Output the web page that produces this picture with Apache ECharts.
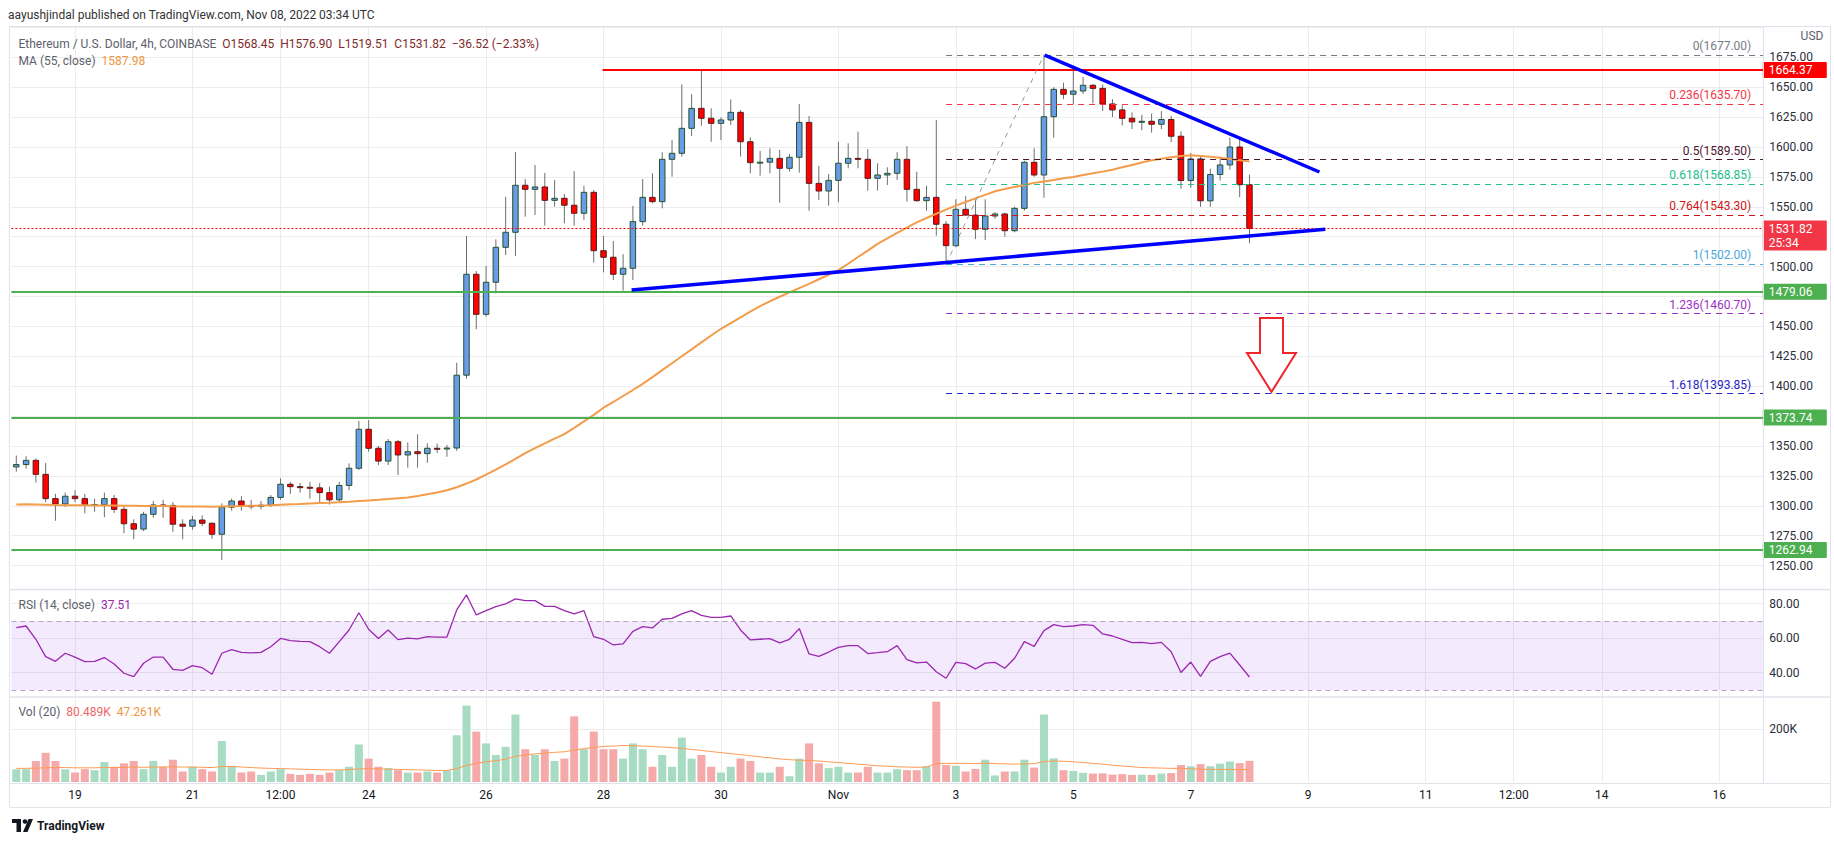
<!DOCTYPE html>
<html>
<head>
<meta charset="utf-8">
<title>ETHUSD 4h</title>
<script src="https://cdn.jsdelivr.net/npm/echarts@6.0.0/dist/echarts.min.js"></script>
<style>
html,body{margin:0;padding:0;background:#ffffff;}
#chart{width:1834px;height:845px;}
</style>
</head>
<body>
<div id="chart"></div>
<script>
// ================= DATA =================
const openP = [1332.5,1334.5,1338,1326.3,1306,1301.5,1308,1306,1300.7,1301,
1306,1297,1285,1280.5,1292.9,1300.7,1300.3,1284.6,1282.9,1288.1,
1285.4,1276.2,1298.8,1304,1300.1,1299.6,1300.5,1307,1318,1316,
1315.5,1315,1311,1305,1317,1331.4,1364,1348.1,1337.4,1353.6,
1342.5,1345.2,1343.6,1348.1,1347.5,1348.3,1409.2,1493.6,1460.1,1486.9,
1516.1,1528.7,1568,1564.6,1566.6,1555.4,1557.1,1551.3,1544.6,1562.1,
1513.3,1507.8,1493.6,1498.6,1537.6,1557.9,1554.3,1589.7,1594.7,1615.6,
1632.3,1624,1619.8,1622.6,1629,1604.4,1586.9,1587.3,1590.5,1582.2,
1591.4,1620.6,1569.6,1563.2,1572.1,1586.4,1590.5,1589.7,1573.8,1576.6,
1578,1589.7,1564.6,1555.1,1557.9,1535.4,1517.5,1547.9,1543.1,1531.2,
1542.3,1544,1530,1548.7,1587.2,1576.6,1625.3,1648.2,1644.1,1646.8,
1651.6,1649,1636,1631,1624,1621,1621.5,1619,1623,1609,
1572,1590,1555,1577,1585,1600,1568.45];
const highP = [1342,1341.5,1339.5,1335.8,1310,1311,1313,1310,1306,1311,
1309,1299.8,1288.7,1295,1304,1305,1303,1288.7,1291.5,1292,
1286,1302,1306,1308,1305,1304,1309,1323,1320,1319,
1320,1319,1316,1320,1335.5,1370.9,1371.7,1350,1355.8,1355,
1353,1359.8,1352.2,1352,1350.8,1419.6,1525.6,1496.3,1500.5,1522.8,
1558.4,1595.8,1573.2,1584.9,1578.3,1572.4,1560.7,1579.9,1567.6,1564,
1525.6,1521.4,1510.3,1550.7,1573.2,1578,1595.6,1605.9,1652.4,1644.2,
1664,1632.3,1624.8,1639.8,1630.9,1608.1,1596.7,1598.9,1597.5,1594.1,
1635.9,1625.9,1584.2,1577.4,1604.4,1603.1,1612.8,1598.1,1586.4,1583,
1595.6,1600.7,1579.3,1567.6,1622.6,1538.1,1556.3,1559,1556.3,1556.3,
1545.5,1545.1,1550,1588.5,1598.9,1677,1650,1653.8,1664.4,1658.6,
1652.6,1652,1640,1635,1629,1627,1628,1630,1626,1613,
1595,1593,1582,1592,1608,1607,1576.9];
const lowP = [1328.5,1331,1319.5,1303,1287.5,1299,1303,1293.7,1295,1290.4,
1294,1277,1272,1279,1290,1290,1278.3,1272,1280,1283,
1272.5,1254.7,1296,1296,1297,1297,1299,1305,1310,1311,
1306,1303,1301,1303,1313,1329.9,1345.2,1334,1334,1325.8,
1331.9,1331.9,1336,1344,1341,1346,1406.3,1447.6,1458.1,1477.7,
1509.7,1508.9,1541.7,1543.1,1534.2,1550.1,1536.2,1534.2,1539,1503.3,
1495.2,1488.8,1480,1488.8,1534.2,1553,1548.7,1575.2,1592,1609.2,
1617.8,1604.4,1605.9,1618.4,1592,1578,1576,1578,1553.4,1579.4,
1578.5,1546.7,1555.7,1550.9,1553.8,1582.2,1582.2,1563.5,1563.5,1568.2,
1572.4,1554.3,1554.3,1546.7,1525.8,1502,1516.1,1542.3,1523,1522.2,
1540,1525,1528.7,1546.7,1575.2,1557.6,1607.8,1640.1,1635.7,1644.3,
1636.5,1630,1625,1618,1615,1614,1612,1615,1604,1565,
1566,1550,1550,1572,1581,1558,1519.51];
const closeP = [1334.5,1338,1326.3,1306,1301.5,1308,1306,1300.7,1301,1306,
1297,1285,1280.5,1292.9,1300.7,1300.3,1284.6,1282.9,1288.1,1285.4,
1276.2,1298.8,1304,1300.1,1299.6,1300.5,1307,1318,1316,1315.5,
1315,1311,1305,1317,1331.4,1364,1348.1,1337.4,1353.6,1342.5,
1345.2,1343.6,1348.1,1347.5,1348.3,1409.2,1493.6,1460.1,1486.9,1516.1,
1528.7,1568,1564.6,1566.6,1555.4,1557.1,1551.3,1544.6,1562.1,1513.3,
1507.8,1493.6,1498.6,1537.6,1557.9,1554.3,1589.7,1594.7,1615.6,1632.3,
1624,1619.8,1622.6,1629,1604.4,1586.9,1587.3,1590.5,1582.2,1591.4,
1620.6,1569.6,1563.2,1572.1,1586.4,1590.5,1589.7,1573.8,1576.6,1578,
1589.7,1564.6,1555.1,1557.9,1535.4,1517.5,1547.9,1543.1,1531.2,1542.3,
1544,1530,1548.7,1587.2,1576.6,1625.3,1648.2,1644.1,1646.8,1651.6,
1649,1636,1631,1624,1621,1621.5,1619,1623,1609,1572,
1590,1555,1577,1585,1600,1568.45,1531.82];
const ma55 = [1301.0,1301.2,1301.0,1300.8,1300.6,1300.5,1300.5,1300.4,1300.3,1300.3,
1300.2,1300.0,1300.0,1299.9,1299.9,1299.8,1299.6,1299.5,1299.5,1299.4,
1299.3,1299.5,1299.7,1299.8,1300.0,1300.2,1300.5,1300.9,1301.3,1301.6,
1302.0,1302.3,1302.5,1302.9,1303.4,1304.0,1304.5,1305.0,1305.6,1306.3,
1307.0,1308.2,1309.6,1311.2,1313.0,1315.5,1318.6,1322.0,1326.0,1330.2,
1334.6,1339.2,1344.0,1348.2,1352.2,1356.2,1360.0,1365.2,1370.6,1376.0,
1382.0,1386.8,1391.8,1396.8,1402.0,1407.6,1413.4,1419.2,1425.0,1430.8,
1436.6,1442.4,1448.0,1452.8,1457.6,1462.4,1467.0,1471.0,1474.8,1478.4,
1482.0,1485.6,1489.4,1493.2,1497.0,1502.4,1508.0,1513.4,1519.0,1523.6,
1528.2,1532.6,1537.0,1540.6,1544.2,1547.6,1551.0,1554.0,1557.0,1560.0,
1563.0,1564.8,1566.6,1568.2,1570.0,1571.2,1572.4,1573.8,1575.0,1576.6,
1578.0,1579.4,1581.0,1583.0,1585.0,1587.0,1589.0,1590.2,1591.4,1592.4,
1593.0,1592.4,1591.8,1591.0,1590.0,1589.0,1587.98];
const rsi14 = [66.1,67.1,59.4,49.3,46.6,51.3,49.0,46.4,46.6,48.8,
45.1,39.7,37.7,45.5,49.1,49.1,42.0,41.4,44.1,42.9,
39.1,51.3,53.4,51.8,51.5,51.8,55.1,59.9,58.6,58.2,
58.0,55.1,51.3,58.0,64.8,74.8,65.2,59.8,64.8,59.2,
60.1,59.6,60.9,60.7,60.7,76.4,85.1,73.5,76.0,78.3,
79.9,82.8,81.8,81.8,78.5,78.5,76.0,74.1,76.0,60.9,
59.4,56.1,56.7,64.0,66.7,66.0,71.0,71.5,74.1,76.0,
73.3,72.1,72.1,72.9,64.8,59.0,59.4,59.8,57.3,59.4,
65.6,50.9,49.5,52.0,54.7,55.7,55.7,51.1,51.6,52.2,
55.7,47.6,45.7,46.2,40.6,36.8,46.0,45.3,42.2,45.6,
46.0,42.6,48.4,58.0,55.3,64.4,67.9,66.7,67.1,67.9,
67.5,62.5,61.3,59.4,57.4,57.6,56.9,57.6,52.2,40.1,
46.2,37.9,46.6,49.3,51.4,44.5,37.51];
const volK = [49,49,80,111,80,49,36,49,45,76,
58,71,80,49,80,58,85,40,58,49,
40,156,62,36,40,27,40,49,31,27,
31,27,36,45,58,143,89,58,53,45,
36,36,40,36,45,178,291,192,147,103,
134,257,125,103,125,80,89,250,125,192,
125,125,89,147,125,58,103,58,169,89,
103,58,36,58,89,80,36,36,58,22,
89,147,71,53,58,36,36,58,36,36,
49,45,45,60,306,65,62,40,50,85,
25,40,40,85,55,257,90,45,42,35,
32,33,28,30,27,28,27,32,34,65,
60,68,60,70,78,72,80.489];
const volMa20 = [52,52,53,54,55,55,54,54,54,55,55,
56,57,56,57,57,58,57,57,56,55,
59,59,57,55,53,52,51,50,49,48,47,46,46,47,50,51,50,49,48,47,46,45,44,44,
51,63,71,77,81,87,98,103,107,110,113,
115,122,127,132,135,137,139,138,137,135,
133,131,128,124,120,116,112,108,104,100,
96,92,88,85,83,82,80,77,74,71,
68,65,62,60,58,57,56,57,70,71,
71,71,70,72,70,69,68,69,70,78,
80,79,77,74,71,68,64,61,58,55,
54,53,52,52,50,49,48,48,48,47,47.261];

// time axis: candle index -> label (index 0 = Oct 18 2022 00:00 UTC, 4h candles)
const tickIdx    = [6, 18, 27, 36, 48, 60, 72, 84, 96, 108, 120, 132, 144, 153, 162, 174];
const tickLabels = ['19','21','12:00','24','26','28','30','Nov','3','5','7','9','11','12:00','14','16'];
const priceGrid   = [1250,1275,1300,1325,1350,1375,1400,1425,1450,1475,1500,1525,1550,1575,1600,1625,1650,1675,1700];
const priceLabels = [1250,1275,1300,1325,1350,1400,1425,1450,1500,1550,1575,1600,1625,1650,1675];
const rsiLabels = [80, 60, 40];
const volLabels = [200];

// drawings
const levelLines = [1479.06, 1373.74, 1262.94];
const resistanceLevel = 1664.37;
const resistanceFrom = 59.9;
const fibStart = 95;
const fibLevels = ['0','0.236','0.5','0.618','0.764','1','1.236','1.618'];
const fibPrices = [1677.00, 1635.70, 1589.50, 1568.85, 1543.30, 1502.00, 1460.70, 1393.85];
const supportTrend = [[62.87, 1480.4], [133.75, 1531.2]];
const resistTrend  = [[105.07, 1676.9], [133.15, 1579.1]];
const fibDiagonal  = [[95, 1502.0], [105, 1677.0]];
const arrowAnno    = [[128.25, 1457.0, 1427.8, 1395.3]];
const countdown = '25:34';
const changeText = '\u221236.52 (\u22122.33%)';

// ================= STYLE / LAYOUT =================
const FONT = 'Roboto, "Noto Sans", sans-serif';
const GRID_L = 11.4, GRID_W = 1751.9;
const X_MIN = -0.5, X_MAX = 178.5;
const GRID_COLOR = '#ececec';
const fibColors = ['#787b86','#f23645','#4a1830','#22c08f','#d01414','#4aa8dc','#9b30c4','#2626c4'];
const last = closeP.length - 1;
const labelMap = {};
tickIdx.forEach((v, k) => { labelMap[v] = tickLabels[k]; });

function renderCandle(params, api) {
  const i = api.value(0), o = api.value(1), c = api.value(2), l = api.value(3), h = api.value(4);
  const pO = api.coord([i, o]), pC = api.coord([i, c]), pL = api.coord([i, l]), pH = api.coord([i, h]);
  const slot = api.coord([1, o])[0] - api.coord([0, o])[0];
  const w = slot * 0.56;
  const up = c >= o;
  const top = Math.min(pO[1], pC[1]);
  const hgt = Math.max(Math.abs(pO[1] - pC[1]), 1);
  return {
    type: 'group',
    children: [
      { type: 'line', shape: { x1: pH[0], y1: pH[1], x2: pL[0], y2: pL[1] }, style: { stroke: '#6e6e6e', lineWidth: 1 } },
      { type: 'rect', shape: { x: pO[0] - w / 2, y: top, width: w, height: hgt },
        style: { fill: up ? '#6a9be8' : '#ff0000', stroke: up ? '#23532f' : '#5a1a1a', lineWidth: 1 } }
    ]
  };
}

function renderVol(params, api) {
  const i = api.value(0), v = api.value(1), up = api.value(2);
  const a = api.coord([i, v]), b = api.coord([i, 0]);
  const slot = api.coord([1, 0])[0] - api.coord([0, 0])[0];
  const w = slot * 0.82;
  return { type: 'rect', shape: { x: a[0] - w / 2, y: a[1], width: w, height: b[1] - a[1] },
           style: { fill: up ? '#a7dcc3' : '#f6a9a9' } };
}

function renderArrow(params, api) {
  const x = api.value(0);
  const t = api.coord([x, api.value(1)]), s = api.coord([x, api.value(2)]), tip = api.coord([x, api.value(3)]);
  const cx = t[0], sw = 11.5, hw = 24.5;
  return { type: 'polygon',
    shape: { points: [[cx - sw, t[1]], [cx + sw, t[1]], [cx + sw, s[1]], [cx + hw, s[1]], [cx, tip[1]], [cx - hw, s[1]], [cx - sw, s[1]]] },
    style: { fill: '#ffffff', stroke: '#f0262e', lineWidth: 2 } };
}

const tagItems = [
  { v: resistanceLevel, c: '#ff0000' },
  { v: closeP[last], c: '#f23645', sub: countdown },
  { v: levelLines[0], c: '#4caf50' },
  { v: levelLines[1], c: '#4caf50' },
  { v: levelLines[2], c: '#4caf50' }
];
function renderTag(params, api) {
  const k = api.value(2);
  const t = tagItems[k];
  const p = api.coord([api.value(0), api.value(1)]);
  const x0 = p[0] - 0.5, w = 64, h = t.sub ? 30 : 16;
  const ch = [
    { type: 'rect', shape: { x: x0, y: p[1] - 8, width: w, height: h, r: 1 }, style: { fill: t.c } },
    { type: 'text', style: { text: t.v.toFixed(2), x: x0 + 6, y: p[1], fill: '#ffffff', font: '12px ' + FONT, verticalAlign: 'middle', align: 'left' } }
  ];
  if (t.sub) ch.push({ type: 'text', style: { text: t.sub, x: x0 + 6, y: p[1] + 14, fill: '#ffffff', font: '12px ' + FONT, verticalAlign: 'middle', align: 'left' } });
  return { type: 'group', children: ch };
}

function renderFibLabel(params, api) {
  const k = api.value(2);
  const p = api.coord([api.value(0), api.value(1)]);
  return { type: 'text', style: { text: fibLevels[k] + '(' + fibPrices[k].toFixed(2) + ')', x: p[0] - 12, y: p[1] - 3,
    fill: fibColors[k], font: '12px ' + FONT, align: 'right', verticalAlign: 'bottom' } };
}

const markLines = [
  ...levelLines.map(v => ({ yAxis: v, lineStyle: { color: '#4caf50', width: 2, type: 'solid' } })),
  { yAxis: closeP[last], lineStyle: { color: '#ff0000', width: 1, type: [2, 2] } },
  [{ coord: [resistanceFrom, resistanceLevel], lineStyle: { color: '#ff0000', width: 2, type: 'solid' } }, { coord: [X_MAX, resistanceLevel] }],
  ...fibPrices.map((p, k) => [{ coord: [fibStart, p], lineStyle: { color: fibColors[k], width: 1, type: [6, 5] } }, { coord: [X_MAX, p] }])
];

function xAxisFor(gi, showLabels) {
  return {
    type: 'value', gridIndex: gi, min: X_MIN, max: X_MAX,
    axisLine: { show: false },
    axisTick: { show: false, customValues: tickIdx },
    splitLine: { show: true, lineStyle: { color: GRID_COLOR, width: 1 } },
    axisLabel: showLabels
      ? { show: true, customValues: tickIdx, formatter: v => (labelMap[v] !== undefined ? labelMap[v] : ''), color: '#131722', fontSize: 12, margin: 7, fontFamily: FONT }
      : { show: false }
  };
}

const fmt2 = v => v.toFixed(2);
const legendMain = '{g|Ethereum / U.S. Dollar, 4h, COINBASE}  {v|O' + fmt2(openP[last]) + '}  {v|H' + fmt2(highP[last]) +
  '}  {v|L' + fmt2(lowP[last]) + '}  {v|C' + fmt2(closeP[last]) + '}  {v|' + changeText + '}';
const legendMa = '{g|MA (55, close)}  {o|' + fmt2(ma55[last]) + '}';
const legendRsi = '{g|RSI (14, close)}  {p|' + fmt2(rsi14[last]) + '}';
const legendVol = '{g|Vol (20)}  {r|' + volK[last].toFixed(3) + 'K}  {o|' + volMa20[last].toFixed(3) + 'K}';
const richStyles = {
  g: { fill: '#5d606b', font: '12px ' + FONT },
  v: { fill: '#7e2a2a', font: '12px ' + FONT },
  o: { fill: '#f0953e', font: '12px ' + FONT },
  p: { fill: '#9c27b0', font: '12px ' + FONT },
  r: { fill: '#f06464', font: '12px ' + FONT }
};

const option = {
  animation: false,
  backgroundColor: '#ffffff',
  textStyle: { fontFamily: FONT },
  grid: [
    { left: GRID_L, top: 26, width: GRID_W, height: 563, outerBoundsMode: 'none' },
    { left: GRID_L, top: 589, width: GRID_W, height: 107.7, outerBoundsMode: 'none' },
    { left: GRID_L, top: 697, width: GRID_W, height: 85, outerBoundsMode: 'none' }
  ],
  xAxis: [xAxisFor(0, false), xAxisFor(1, false), xAxisFor(2, true)],
  yAxis: [
    { type: 'value', gridIndex: 0, position: 'right', min: 1230.43, max: 1701.17,
      axisLine: { show: false }, axisTick: { show: false, customValues: priceGrid },
      splitLine: { show: true, lineStyle: { color: GRID_COLOR } },
      axisLabel: { customValues: priceLabels, formatter: fmt2, color: '#2a2e39', fontSize: 12, margin: 6, fontFamily: FONT } },
    { type: 'value', gridIndex: 1, position: 'right', min: 26.1, max: 88.55,
      axisLine: { show: false }, axisTick: { show: false, customValues: rsiLabels },
      splitLine: { show: true, lineStyle: { color: GRID_COLOR } },
      axisLabel: { customValues: rsiLabels, formatter: fmt2, color: '#2a2e39', fontSize: 12, margin: 6, fontFamily: FONT } },
    { type: 'value', gridIndex: 2, position: 'right', min: 0, max: 323.8,
      axisLine: { show: false }, axisTick: { show: false, customValues: volLabels },
      splitLine: { show: true, lineStyle: { color: GRID_COLOR } },
      axisLabel: { customValues: volLabels, formatter: v => v + 'K', color: '#2a2e39', fontSize: 12, margin: 6, fontFamily: FONT } }
  ],
  series: [
    { name: 'candles', type: 'custom', xAxisIndex: 0, yAxisIndex: 0, z: 3,
      data: openP.map((o, i) => [i, o, closeP[i], lowP[i], highP[i]]),
      encode: { x: 0, y: [1, 2, 3, 4] }, renderItem: renderCandle },
    { name: 'MA55', type: 'line', xAxisIndex: 0, yAxisIndex: 0, z: 4,
      data: ma55.map((v, i) => [i, v]), symbol: 'none', showSymbol: false,
      lineStyle: { color: '#f39c4a', width: 2 },
      markLine: { silent: true, symbol: ['none', 'none'], label: { show: false }, data: markLines } },
    { name: 'support', type: 'line', xAxisIndex: 0, yAxisIndex: 0, z: 6, data: supportTrend, symbol: 'none',
      lineStyle: { color: '#0000ff', width: 3.5 } },
    { name: 'resist', type: 'line', xAxisIndex: 0, yAxisIndex: 0, z: 6, data: resistTrend, symbol: 'none',
      lineStyle: { color: '#0000ff', width: 3.5 } },
    { name: 'fibDiag', type: 'line', xAxisIndex: 0, yAxisIndex: 0, z: 5, data: fibDiagonal, symbol: 'none',
      lineStyle: { color: '#9598a1', width: 1, type: [5, 5] } },
    { name: 'fibLabels', type: 'custom', xAxisIndex: 0, yAxisIndex: 0, z: 7,
      data: fibPrices.map((p, k) => [X_MAX, p, k]), renderItem: renderFibLabel },
    { name: 'arrow', type: 'custom', xAxisIndex: 0, yAxisIndex: 0, z: 7,
      data: arrowAnno, renderItem: renderArrow },
    { name: 'tags', type: 'custom', xAxisIndex: 0, yAxisIndex: 0, z: 8, clip: false,
      data: tagItems.map((t, k) => [X_MAX, t.v, k]), renderItem: renderTag },
    { name: 'RSI', type: 'line', xAxisIndex: 1, yAxisIndex: 1, z: 4,
      data: rsi14.map((v, i) => [i, v]), symbol: 'none', lineStyle: { color: '#9c27b0', width: 1.3 },
      markArea: { silent: true, itemStyle: { color: 'rgba(165,80,240,0.12)' }, data: [[{ yAxis: 70 }, { yAxis: 30 }]] },
      markLine: { silent: true, symbol: ['none', 'none'], label: { show: false },
        lineStyle: { color: '#b0a8bb', width: 1, type: [5, 4] }, data: [{ yAxis: 70 }, { yAxis: 30 }] } },
    { name: 'Vol', type: 'custom', xAxisIndex: 2, yAxisIndex: 2, z: 3,
      data: volK.map((v, i) => [i, v, closeP[i] >= openP[i] ? 1 : 0]), renderItem: renderVol },
    { name: 'VolMA', type: 'line', xAxisIndex: 2, yAxisIndex: 2, z: 4,
      data: volMa20.map((v, i) => [i, v]), symbol: 'none', lineStyle: { color: '#ff9a52', width: 1 } }
  ],
  graphic: [
    { type: 'rect', silent: true, z: 50, shape: { x: 9.5, y: 26.5, width: 1821, height: 781 }, style: { fill: 'none', stroke: '#e0e3eb', lineWidth: 1 } },
    { type: 'line', silent: true, z: 50, shape: { x1: 10, y1: 589.5, x2: 1830, y2: 589.5 }, style: { stroke: '#e0e3eb', lineWidth: 1.5 } },
    { type: 'line', silent: true, z: 50, shape: { x1: 10, y1: 697, x2: 1830, y2: 697 }, style: { stroke: '#e0e3eb', lineWidth: 1.5 } },
    { type: 'line', silent: true, z: 50, shape: { x1: 1763.5, y1: 26.5, x2: 1763.5, y2: 783.5 }, style: { stroke: '#e0e3eb', lineWidth: 1 } },
    { type: 'line', silent: true, z: 50, shape: { x1: 10, y1: 783.5, x2: 1830, y2: 783.5 }, style: { stroke: '#e0e3eb', lineWidth: 1 } },
    { type: 'text', silent: true, z: 60, style: { text: 'aayushjindal published on TradingView.com, Nov 08, 2022 03:34 UTC', x: 8, y: 15, fill: '#333333', font: '12px ' + FONT, verticalAlign: 'middle' } },
    { type: 'text', silent: true, z: 60, style: { text: legendMain, rich: richStyles, x: 18.5, y: 43.5, font: '12px ' + FONT, verticalAlign: 'middle' } },
    { type: 'text', silent: true, z: 60, style: { text: legendMa, rich: richStyles, x: 18.5, y: 60.5, font: '12px ' + FONT, verticalAlign: 'middle' } },
    { type: 'text', silent: true, z: 60, style: { text: legendRsi, rich: richStyles, x: 18.5, y: 605, font: '12px ' + FONT, verticalAlign: 'middle' } },
    { type: 'text', silent: true, z: 60, style: { text: legendVol, rich: richStyles, x: 18.5, y: 712, font: '12px ' + FONT, verticalAlign: 'middle' } },
    { type: 'text', silent: true, z: 60, style: { text: 'USD', x: 1812, y: 36, fill: '#5d606b', font: '12px ' + FONT, align: 'center', verticalAlign: 'middle' } },
    { type: 'rect', silent: true, z: 60, shape: { x: 12, y: 819, width: 9, height: 4 }, style: { fill: '#131722' } },
    { type: 'rect', silent: true, z: 60, shape: { x: 16.5, y: 819, width: 4.5, height: 13 }, style: { fill: '#131722' } },
    { type: 'circle', silent: true, z: 60, shape: { cx: 25, cy: 821.5, r: 2.3 }, style: { fill: '#131722' } },
    { type: 'polygon', silent: true, z: 60, shape: { points: [[23, 832], [28.5, 819], [33, 819], [27.5, 832]] }, style: { fill: '#131722' } },
    { type: 'text', silent: true, z: 60, style: { text: 'TradingView', x: 37, y: 826, fill: '#131722', font: 'bold 12px ' + FONT, verticalAlign: 'middle' } }
  ]
};

const chart = echarts.init(document.getElementById('chart'), null, { renderer: 'svg', width: 1834, height: 845 });
chart.setOption(option);
</script>
</body>
</html>
